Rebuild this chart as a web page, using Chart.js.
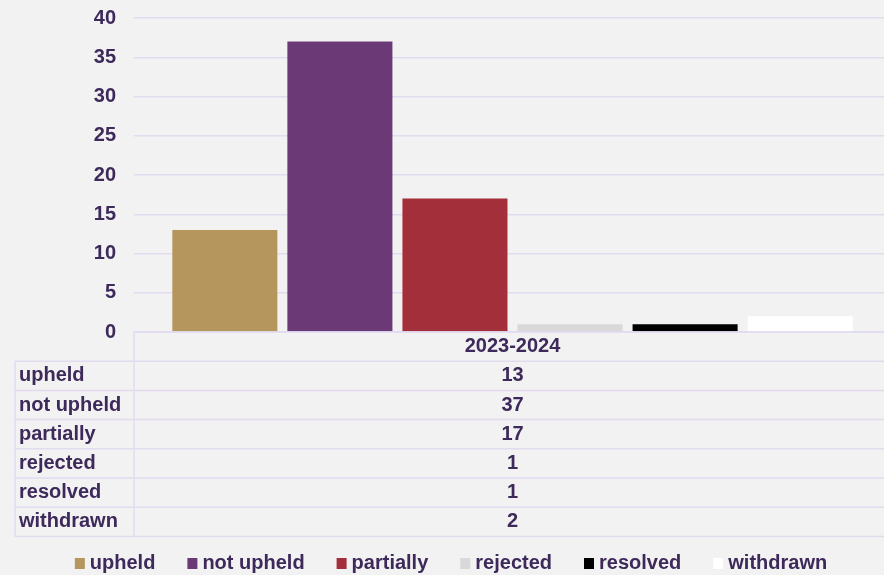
<!DOCTYPE html>
<html>
<head>
<meta charset="utf-8">
<script src="https://cdn.jsdelivr.net/npm/chart.js@4/dist/chart.umd.min.js"></script>
<style>
  html, body { margin: 0; padding: 0; background: #f2f2f2; overflow: hidden; }
  #wrap { width: 892px; height: 575px; }
</style>
</head>
<body>
<div id="wrap"><canvas id="outcomeChart" width="892" height="575"></canvas></div>
<script>
// Complaint outcomes for the year
const categories = ['2023-2024'];
const outcomeLabels = ['upheld', 'not upheld', 'partially', 'rejected', 'resolved', 'withdrawn'];
const outcomeCounts = [13, 37, 17, 1, 1, 2];
const outcomeColors = ['#b5975d', '#6b3a76', '#a22f39', '#d9d9d9', '#000000', '#ffffff'];
const yTicks = [0, 5, 10, 15, 20, 25, 30, 35, 40];

const TEXT = '#3d295a';
const LINE = '#e2dbef';
const FONT = 'bold 20px "Liberation Sans", Arial, sans-serif';
const ROW_H = 29.2;
const LABEL_LEFT = 15;

// data table under the plot + legend at the bottom
const tablePlugin = {
    id: 'dataTable',
    afterDraw(chart) {
        const ctx = chart.ctx;
        const area = chart.chartArea;
        const xScale = chart.scales.x;
        const top = area.bottom;
        const rows = outcomeLabels.length;
        const bottom = top + ROW_H * (rows + 1);

        ctx.save();
        ctx.strokeStyle = LINE;
        ctx.lineWidth = 1.5;
        ctx.beginPath();
        // header row line (x axis)
        ctx.moveTo(area.left, top);
        ctx.lineTo(chart.width, top);
        for (let i = 1; i <= rows + 1; i++) {
            const y = top + ROW_H * i;
            ctx.moveTo(LABEL_LEFT, y);
            ctx.lineTo(chart.width, y);
        }
        ctx.moveTo(area.left, top);
        ctx.lineTo(area.left, bottom);
        ctx.moveTo(LABEL_LEFT, top + ROW_H);
        ctx.lineTo(LABEL_LEFT, bottom);
        ctx.stroke();

        ctx.font = FONT;
        ctx.fillStyle = TEXT;
        ctx.textBaseline = 'middle';

        categories.forEach((cat, ci) => {
            const cx = xScale.getPixelForValue(ci);
            ctx.textAlign = 'center';
            ctx.fillText(cat, cx, top + ROW_H / 2);
            chart.data.datasets.forEach((ds, i) => {
                ctx.fillText(String(ds.data[ci]), cx, top + ROW_H * (i + 1.5));
            });
        });

        ctx.textAlign = 'left';
        chart.data.datasets.forEach((ds, i) => {
            ctx.fillText(ds.label, LABEL_LEFT + 4, top + ROW_H * (i + 1.5));
        });

        // legend
        const boxW = 10, boxH = 11, gap = 5, spacing = 32;
        const items = chart.data.datasets.map(ds => ({
            label: ds.label,
            color: ds.backgroundColor,
            w: boxW + gap + ctx.measureText(ds.label).width
        }));
        const total = items.reduce((s, it) => s + it.w, 0) + spacing * (items.length - 1);
        let x = 451 - total / 2;
        const ly = 563.5;
        items.forEach(it => {
            ctx.fillStyle = it.color;
            ctx.fillRect(x, ly - boxH / 2, boxW, boxH);
            ctx.fillStyle = TEXT;
            ctx.fillText(it.label, x + boxW + gap, ly);
            x += it.w + spacing;
        });
        ctx.restore();
    }
};

new Chart(document.getElementById('outcomeChart'), {
    type: 'bar',
    data: {
        labels: categories,
        datasets: outcomeLabels.map((label, i) => ({
            label: label,
            data: [outcomeCounts[i]],
            backgroundColor: outcomeColors[i],
            borderWidth: 0,
            categoryPercentage: 0.912,
            barPercentage: 0.913
        }))
    },
    options: {
        responsive: false,
        animation: false,
        layout: { padding: { top: 18, right: 1, bottom: 0, left: 0 } },
        scales: {
            x: {
                ticks: { display: false },
                grid: { display: false },
                border: { display: false },
                afterFit(scale) { scale.height = 243; }
            },
            y: {
                min: 0,
                max: 40,
                afterBuildTicks(scale) { scale.ticks = yTicks.map(v => ({ value: v })); },
                afterFit(scale) {
                    scale.width = 134;
                    scale.paddingTop = 0;
                    scale.paddingBottom = 0;
                },
                ticks: {
                    color: TEXT,
                    padding: 18,
                    font: { family: '"Liberation Sans", Arial, sans-serif', size: 20, weight: 'bold' }
                },
                grid: { color: LINE, lineWidth: 1.5, drawTicks: false },
                border: { display: false }
            }
        },
        plugins: {
            legend: { display: false },
            tooltip: { enabled: false }
        }
    },
    plugins: [tablePlugin]
});
</script>
</body>
</html>
